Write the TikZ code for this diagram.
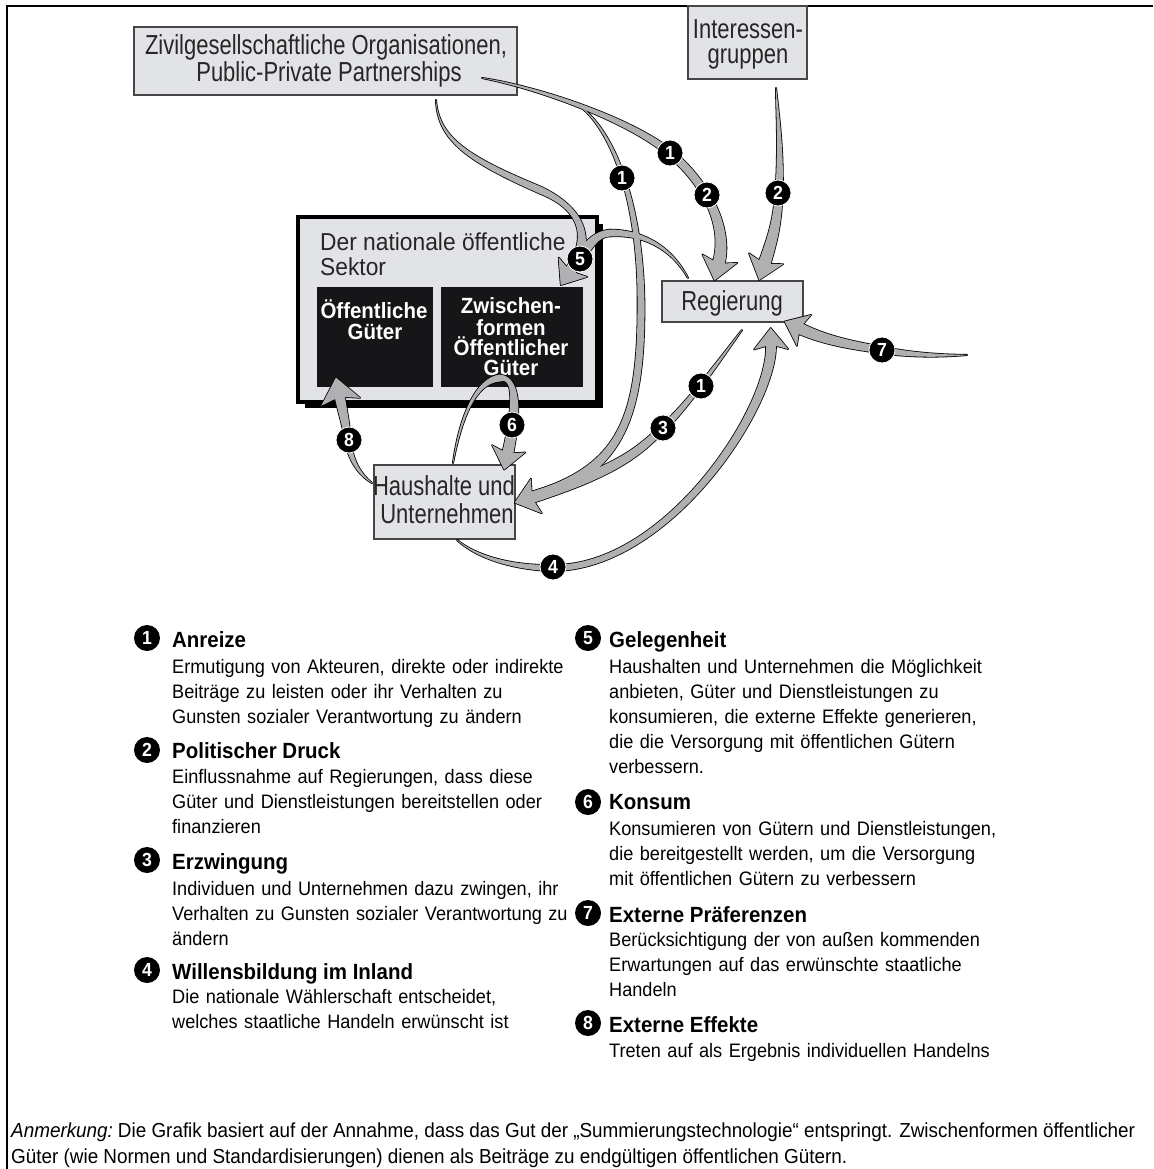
\documentclass[tikz,border=0pt]{standalone}
\usepackage{fontspec}
\setmainfont{Liberation Sans}[FakeStretch=0.93]
\newfontfamily\boxfont{Liberation Sans}[FakeStretch=0.8]
\usetikzlibrary{calc}
\definecolor{boxgray}{RGB}{226,227,230}
\definecolor{arrowgray}{RGB}{176,176,178}
\definecolor{boxline}{RGB}{70,70,70}
\definecolor{darkbox}{RGB}{22,22,24}

% tapered arrow: #1 start, #2 #3 controls, #4 mid, #5 #6 controls, #7 head base, #8 half width, #9 head scale
\newcommand{\tarr}[9]{%
  \pgfmathsetmacro\tw{#8}%
  \pgfmathsetmacro\twa{0.2+(\tw-0.2)*0.25}%
  \pgfmathsetmacro\twb{0.2+(\tw-0.2)*0.45}%
  \pgfmathsetmacro\twm{0.2+(\tw-0.2)*0.62}%
  \pgfmathsetmacro\twc{0.2+(\tw-0.2)*0.75}%
  \pgfmathsetmacro\twd{0.2+(\tw-0.2)*0.88}%
  \pgfmathsetmacro\thl{19*#9}%
  \pgfmathsetmacro\thb{3.5*#9}%
  \pgfmathsetmacro\thw{18*#9}%
  \coordinate (q0) at #1;
  \coordinate (qa1) at #2;
  \coordinate (qa2) at #3;
  \coordinate (qm) at #4;
  \coordinate (qb1) at #5;
  \coordinate (qb2) at #6;
  \coordinate (q3) at #7;
  \coordinate (qtip) at ($(q3)!\thl pt!180:(qb2)$);
  \coordinate (qback) at ($(q3)!\thb pt!(qb2)$);
  \path[arrowcur]
    ($(q0)!0.2pt!90:(qa1)$)
    .. controls ($(qa1)!\twa pt!90:(qa2)$) and ($(qa2)!\twb pt!90:(qm)$) ..
    ($(qm)!\twm pt!-90:(qa2)$)
    .. controls ($(qb1)!\twc pt!90:(qb2)$) and ($(qb2)!\twd pt!90:(q3)$) ..
    ($(q3)!\tw pt!-90:(qb2)$)
    -- ($(qback)!\thw pt!-90:(qb2)$)
    -- (qtip)
    -- ($(qback)!\thw pt!90:(qb2)$)
    -- ($(q3)!\tw pt!90:(qb2)$)
    .. controls ($(qb2)!\twd pt!-90:(q3)$) and ($(qb1)!\twc pt!-90:(qb2)$) ..
    ($(qm)!\twm pt!90:(qa2)$)
    .. controls ($(qa2)!\twb pt!-90:(qm)$) and ($(qa1)!\twa pt!-90:(qa2)$) ..
    ($(q0)!0.2pt!-90:(qa1)$) -- cycle;
}

\newcommand{\allarrows}{%
  % A: Zivil -> Regierung (1, 2)
  \tarr{(482,78)}{(540,88)}{(630,120)}{(670,153)}{(705,182)}{(728,225)}{(719,262)}{6}{1}
  % B: Zivil -> Haushalte (vertical 1)
  \tarr{(578,105)}{(612,128)}{(640,200)}{(641,300)}{(642,420)}{(620,470)}{(533,497)}{5.5}{1}
  % C: Regierung -> Haushalte (1, 3)
  \tarr{(742,330)}{(718,362)}{(688,405)}{(663,428)}{(640,450)}{(620,470)}{(533,497)}{5.5}{1}
  % D: Interessengruppen -> Regierung (2)
  \tarr{(776,88)}{(778,120)}{(781,150)}{(779,193)}{(777,225)}{(772,240)}{(765,262)}{6}{1}
  % E: Zivil -> Zwischenformen (5)
  \tarr{(436,100)}{(438,140)}{(470,160)}{(540,190)}{(590,212)}{(588,245)}{(571,270)}{5.5}{0.95}
  % F: Regierung -> Zwischenformen (5)
  \tarr{(688,278)}{(670,245)}{(640,232)}{(610,233)}{(595,234)}{(588,245)}{(571,270)}{5.5}{0.95}
  % G: Haushalte -> Regierung (4)
  \tarr{(457,540)}{(480,560)}{(520,568)}{(553,568)}{(667,568)}{(772,409)}{(771,346)}{5}{0.95}
  % H: external -> Regierung (7)
  \tarr{(967,355)}{(940,356)}{(910,355)}{(882,350)}{(850,345)}{(825,340)}{(801,329)}{5.5}{0.95}
  % I: Haushalte -> Zwischenformen -> Haushalte (6)
  \tarr{(453,463)}{(460,420)}{(475,380)}{(500,378)}{(520,376)}{(515,420)}{(508,452)}{5.5}{0.95}
  % J: Haushalte -> Oeffentliche Gueter (8)
  \tarr{(372,483)}{(360,475)}{(350,460)}{(348,440)}{(346,425)}{(343,413)}{(340,398)}{5}{1.1}
}

\begin{document}
\begin{tikzpicture}[x=1pt,y=-1pt,
  boxst/.style={draw=boxline, line width=1.3, fill=boxgray, inner sep=0, outer sep=0},
  btext/.style={anchor=base, inner sep=0, text=black!85, font=\boxfont\fontsize{27.5}{28}\selectfont},
  stext/.style={anchor=base west, inner sep=0, text=black!85, font=\fontsize{24.5}{25}\selectfont},
  wtext/.style={anchor=base, inner sep=0, text=white, font=\bfseries\fontsize{22}{22}\selectfont},
  numc/.style={circle, fill=black, draw=white, line width=0.8, text=white, font=\bfseries\fontsize{19}{19}\selectfont, inner sep=0, minimum size=26},
  legc/.style={circle, fill=black, text=white, font=\bfseries\fontsize{19}{19}\selectfont, inner sep=0, minimum size=26},
  arrowoutline/.style={fill=black, draw=black, line width=1.6, line join=round},
  arrowfill/.style={fill=arrowgray},
  legh/.style={anchor=base west, inner sep=0, font=\bfseries\fontsize{22}{22}\selectfont},
  legb/.style={anchor=base west, inner sep=0, text width=440, align=left, font=\fontsize{19.5}{25.2}\selectfont},
  note/.style={anchor=base west, inner sep=0, font=\fontsize{20.3}{26}\selectfont}
]
\useasboundingbox (0,0) rectangle (1153,1169);
\fill[white] (0,0) rectangle (1153,1169);
% frame
\draw[line width=2.5] (7,1169) -- (7,6) -- (1153,6);

% boxes
\node[boxst, minimum width=383, minimum height=68] (zivil) at (325.5,61) {};
\node[btext] at (326,55) {Zivilgesellschaftliche Organisationen,};
\node[btext] at (329,82) {Public-Private Partnerships};

\node[boxst, minimum width=119, minimum height=73] (inter) at (747.5,42.5) {};
\node[btext] at (748,39) {Interessen-};
\node[btext] at (748,64) {gruppen};

\node[boxst, minimum width=141, minimum height=41] (reg) at (732.5,301.5) {};
\node[btext] at (732,310) {Regierung};

\node[boxst, minimum width=141, minimum height=74] (haus) at (444.5,502) {};
\node[btext] at (444,495) {Haushalte und};
\node[btext] at (447,523) {Unternehmen};

% sector
\node[fill=black, minimum width=298, minimum height=184, inner sep=0] (sectorshadow) at (454,316) {};
\node[draw=black, line width=3.5, fill=boxgray, minimum width=299, minimum height=185, inner sep=0] (sector) at (447.5,309.5) {};
\node[stext] at (320,250) {Der nationale öffentliche};
\node[stext] at (320,275) {Sektor};
\node[fill=darkbox, minimum width=116, minimum height=100, inner sep=0] (oeff) at (375,337) {};
\node[fill=darkbox, minimum width=142, minimum height=100, inner sep=0] (zw) at (512,337) {};
\node[wtext] at (374,318) {Öffentliche};
\node[wtext] at (375,339) {Güter};
\node[wtext] at (511,313) {Zwischen-};
\node[wtext] at (511,335) {formen};
\node[wtext] at (511,355) {Öffentlicher};
\node[wtext] at (511,375) {Güter};

% arrows: outlines first, then fills
\tikzset{arrowcur/.style={arrowoutline}}
\allarrows
\tikzset{arrowcur/.style={arrowfill}}
\allarrows

% numbers on arrows
\node[numc] (c1a) at (622,178) {1};
\node[numc] (c1b) at (670,153) {1};
\node[numc] (c2a) at (707,195) {2};
\node[numc] (c2b) at (778,193) {2};
\node[numc] (c5) at (580,259) {5};
\node[numc] (c7) at (882,350) {7};
\node[numc] (c1c) at (701,386) {1};
\node[numc] (c3) at (663,428) {3};
\node[numc] (c6) at (512,425) {6};
\node[numc] (c8) at (349,440) {8};
\node[numc] (c4) at (553,567) {4};

% legend left
\node[legc] (l1) at (147,638) {1};
\node[legh] at (172,647) {Anreize};
\node[legb] at (172,673) {Ermutigung von Akteuren, direkte oder indirekte\\Beiträge zu leisten oder ihr Verhalten zu\\Gunsten sozialer Verantwortung zu ändern};
\node[legc] (l2) at (147,750) {2};
\node[legh] at (172,758) {Politischer Druck};
\node[legb] at (172,783) {Einflussnahme auf Regierungen, dass diese\\Güter und Dienstleistungen bereitstellen oder\\finanzieren};
\node[legc] (l3) at (147,860) {3};
\node[legh] at (172,869) {Erzwingung};
\node[legb] at (172,895) {Individuen und Unternehmen dazu zwingen, ihr\\Verhalten zu Gunsten sozialer Verantwortung zu\\ändern};
\node[legc] (l4) at (147,970) {4};
\node[legh] at (172,979) {Willensbildung im Inland};
\node[legb] at (172,1003) {Die nationale Wählerschaft entscheidet,\\welches staatliche Handeln erwünscht ist};

% legend right
\node[legc] (l5) at (588,638) {5};
\node[legh] at (609,647) {Gelegenheit};
\node[legb] at (609,673) {Haushalten und Unternehmen die Möglichkeit\\anbieten, Güter und Dienstleistungen zu\\konsumieren, die externe Effekte generieren,\\die die Versorgung mit öffentlichen Gütern\\verbessern.};
\node[legc] (l6) at (588,802) {6};
\node[legh] at (609,809) {Konsum};
\node[legb] at (609,835) {Konsumieren von Gütern und Dienstleistungen,\\die bereitgestellt werden, um die Versorgung\\mit öffentlichen Gütern zu verbessern};
\node[legc] (l7) at (588,913) {7};
\node[legh] at (609,922) {Externe Präferenzen};
\node[legb] at (609,946) {Berücksichtigung der von außen kommenden\\Erwartungen auf das erwünschte staatliche\\Handeln};
\node[legc] (l8) at (588,1023) {8};
\node[legh] at (609,1032) {Externe Effekte};
\node[legb] at (609,1057) {Treten auf als Ergebnis individuellen Handelns};

% note
\node[note] (n1) at (11,1137) {\textit{Anmerkung:}\kern-2pt{} Die Grafik basiert auf der Annahme, dass das Gut der „Summierungstechnologie“ entspringt. Zwischenformen öffentlicher};
\node[note] (n2) at (11,1163) {Güter (wie Normen und Standardisierungen) dienen als Beiträge zu endgültigen öffentlichen Gütern.};
\end{tikzpicture}
\end{document}
